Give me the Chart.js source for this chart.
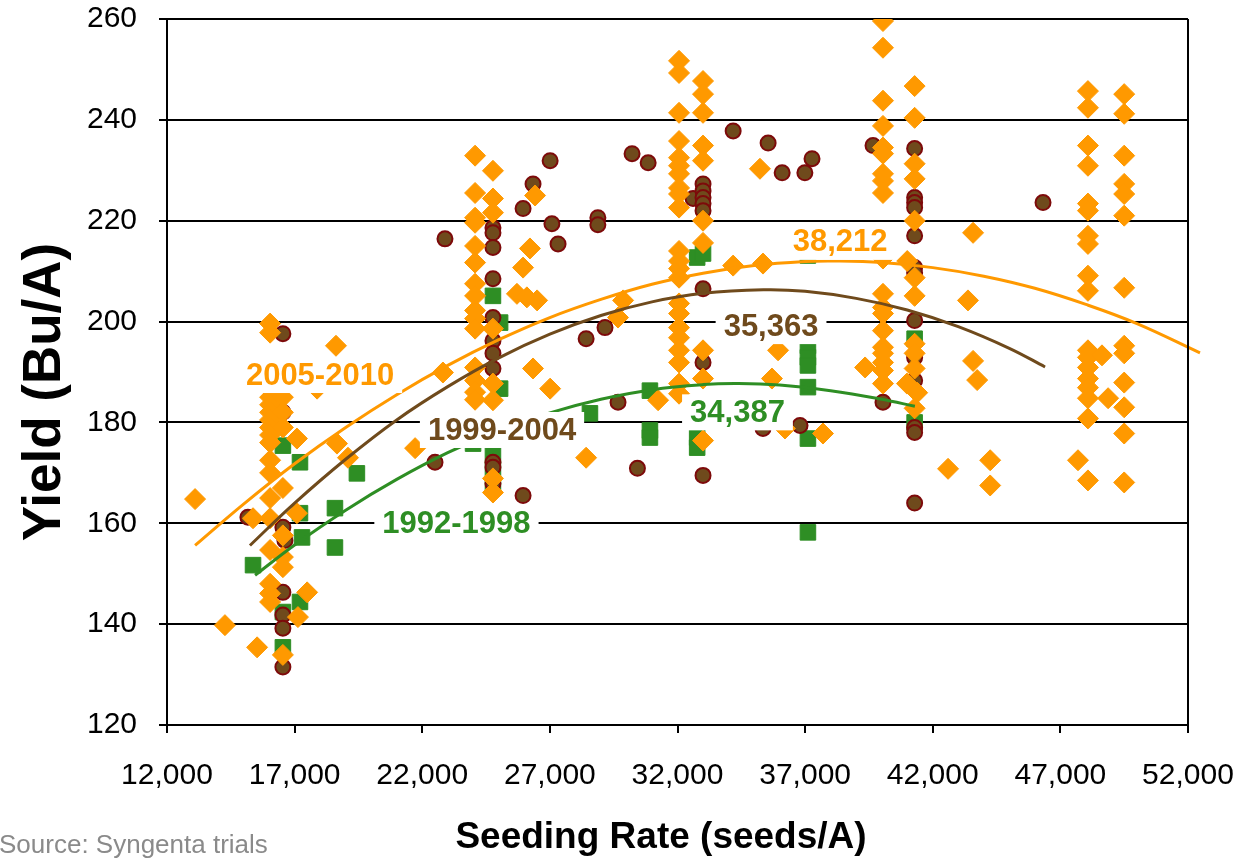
<!DOCTYPE html>
<html>
<head>
<meta charset="utf-8">
<title>Yield vs Seeding Rate</title>
<script src="https://cdn.jsdelivr.net/npm/chart.js@4.4.1/dist/chart.umd.min.js"></script>
<style>
  html, body { margin: 0; padding: 0; background: #fff; }
  #wrap { width: 1257px; height: 860px; }
</style>
</head>
<body>
<div id="wrap"><canvas id="yieldChart" width="1257" height="860"></canvas></div>
<script>
// axis ticks
const rateTicks = [12000, 17000, 22000, 27000, 32000, 37000, 42000, 47000, 52000];
const yieldTicks = [120, 140, 160, 180, 200, 220, 240, 260];

// trial results [seeding rate, yield] per period
const pts9298 = [
    [16540, 175.4], [17210, 172.1], [19440, 169.9], [17210, 162], [18580, 163], [17290, 157.2],
    [18580, 155.2], [15370, 151.7], [17210, 144.4], [16540, 142.4], [16540, 135.4],
    [24770, 205.1], [25050, 199.8], [25050, 186.7], [23990, 175.8], [24770, 173.5], [24770, 170.5], [24770, 167.5],
    [28570, 181.8], [30920, 186.3], [30920, 178.4], [30920, 177],
    [32770, 212.7], [33000, 213.5], [32770, 177], [32770, 175],
    [37110, 213.1], [37110, 195.2], [37110, 192.9], [37110, 191.3], [37110, 187], [37110, 176.8], [37110, 158.2],
    [41290, 196.6], [41290, 180]
];
const pts9904 = [
    [16540, 197.6], [16540, 182], [15170, 161.2], [16540, 159.2], [16620, 156.6], [16540, 146.3],
    [16540, 141.8], [16540, 139.2], [16540, 131.5],
    [22890, 216.4], [27010, 231.9], [26340, 227.3], [25950, 222.4], [27080, 219.4], [27320, 215.4],
    [28880, 220.6], [28880, 219.2], [28420, 196.6], [22500, 172.1], [25950, 165.5],
    [24770, 218.6], [24770, 217.6], [24770, 214.7], [24770, 208.5], [24770, 200.8], [24770, 196.2],
    [24770, 193.7], [24770, 190.7], [24770, 172.1], [24770, 171.1], [24770, 167.9],
    [30220, 233.3], [30850, 231.5], [29160, 198.8], [29670, 184], [30430, 170.9],
    [34180, 237.8], [35550, 235.4], [36100, 229.5], [36990, 229.5], [37270, 232.3], [32610, 224.4],
    [33000, 227.3], [33000, 225.9], [33000, 224.6], [33000, 223.4], [33000, 222], [33000, 206.5],
    [33000, 191.9], [33000, 169.5], [36800, 179.4], [35350, 178.8],
    [39660, 234.9], [41290, 234.3], [41290, 224.6], [41290, 223.6], [41290, 222.6], [41290, 217],
    [41290, 210.7], [41290, 209.7], [41290, 200.2], [41290, 192.9], [41290, 188.3], [41290, 179],
    [41290, 178], [41290, 164], [40050, 184], [46320, 223.6]
];
const pts0510 = [
    [16040, 199.6], [16040, 197.8], [16040, 186.5], [16040, 185], [16040, 183.5], [16040, 182],
    [16040, 180.5], [16040, 179], [16040, 177.5], [16040, 176], [16040, 172.5], [16040, 170],
    [16040, 165], [16040, 161], [16040, 154.7], [16040, 148], [16040, 146.1], [16040, 144.4],
    [16540, 185], [16540, 182], [16540, 179], [16540, 167], [16540, 157.6], [16540, 153.3], [16540, 151.3], [16540, 133.9],
    [15370, 161], [17090, 176.8], [17090, 162], [17130, 141.4], [17490, 146.3], [14270, 139.8],
    [15530, 135.4], [13100, 164.8], [18660, 175.8], [19090, 173], [18620, 195.2], [17880, 186.7],
    [24070, 232.9], [24070, 225.5], [24070, 220.6], [24070, 219.6], [24070, 215], [24070, 211.7],
    [24070, 207.5], [24070, 205.1], [24070, 202.2], [24070, 200.6], [24070, 198.6], [24070, 190.9],
    [24070, 188.3], [24070, 186], [24070, 184.5],
    [24770, 229.9], [24770, 224.4], [24770, 221.6], [24770, 198.6], [24770, 187.7], [24770, 184.4],
    [24770, 168.9], [24770, 166.1],
    [26420, 225], [26220, 214.5], [25950, 210.7], [25710, 205.5], [26100, 204.8], [26500, 204.2],
    [26340, 190.7], [27010, 186.7], [21720, 174.9], [28420, 173], [22810, 189.9], [29870, 204.2],
    [29670, 200.8], [31240, 184.4],
    [32060, 251.7], [32060, 249.3], [32060, 241.4], [32060, 235.8], [32060, 232.5], [32060, 230.9],
    [32060, 229.3], [32060, 226.5], [32060, 225.3], [32060, 222.6], [32060, 214], [32060, 212],
    [32060, 210.5], [32060, 208.7], [32060, 203.6], [32060, 201.6], [32060, 198.8], [32060, 196.8],
    [32060, 194.3], [32060, 191.9], [32060, 187.7], [32060, 185.7],
    [33000, 247.7], [33000, 245.1], [33000, 241.4], [33000, 234.9], [33000, 231.9], [33000, 220],
    [33000, 215.6], [33000, 194.3], [33000, 188.7], [33000, 176.4],
    [35230, 230.3], [34180, 211.1], [35350, 211.5], [35940, 194.3], [35700, 188.7], [36210, 178.8], [37700, 177.8],
    [40050, 259.6], [40050, 254.3], [40050, 243.8], [40050, 238.8], [40050, 234.5], [40050, 233.3],
    [40050, 229.3], [40050, 227.9], [40050, 225.5], [40050, 212.5], [40050, 205.5], [40050, 202.8],
    [40050, 201.6], [40050, 198.2], [40050, 194.9], [40050, 193.7], [40050, 191.9], [40050, 190.3],
    [40050, 187.7], [39350, 190.9],
    [41290, 246.7], [41290, 240.4], [41290, 231.3], [41290, 228.3], [41290, 220], [41000, 212],
    [41290, 208.7], [41290, 205.1], [41290, 195.6], [41290, 193.7], [41290, 190.7], [40990, 187.7],
    [41390, 185.9], [41290, 182.8],
    [43580, 217.6], [43380, 204.2], [43580, 192.2], [43740, 188.4], [42600, 170.8], [44250, 172.5], [44250, 167.5],
    [48080, 245.7], [48080, 242.4], [48080, 234.9], [48080, 230.9], [48080, 223.4], [48080, 222],
    [48080, 217], [48080, 215.4], [48080, 209.1], [48080, 206.1], [48080, 194.3], [48080, 192.9],
    [48080, 190.9], [48080, 188.7], [48080, 186.9], [48080, 184.8], [48080, 180.8], [48080, 168.5],
    [47690, 172.5], [48630, 193.3], [48870, 184.8],
    [49500, 245.1], [49500, 241.2], [49500, 232.9], [49500, 227.3], [49500, 225.3], [49500, 221],
    [49500, 206.7], [49500, 195.2], [49500, 193.7], [49500, 187.9], [49500, 183], [49500, 177.8], [49500, 168.1]
];

// trend curves
const fitRate9298 = [15450, 17000, 19000, 21000, 23000, 25000, 27000, 29000, 31000, 33000, 34387, 36000, 38000, 40000, 41300];
const fitYield9298 = [149.7, 155.7, 162.6, 168.7, 174.0, 178.4, 181.9, 184.6, 186.5, 187.5, 187.7, 187.4, 186.3, 184.6, 183.2];
const fitRate9904 = [15250, 17000, 19000, 21000, 23000, 25000, 27000, 29000, 31000, 33000, 35363, 37000, 39000, 41000, 43000, 45000, 46400];
const fitYield9904 = [155.6, 164.0, 172.7, 180.5, 187.1, 192.8, 197.5, 201.2, 203.9, 205.6, 206.3, 206.0, 204.6, 202.3, 199.0, 194.7, 191.0];
const fitRate0510 = [13100, 15000, 17000, 19000, 21000, 23000, 25000, 27000, 29000, 31000, 33000, 35000, 37000, 38212, 40000, 42000, 44000, 46000, 48000, 50000, 52470];
const fitYield0510 = [155.6, 163.8, 171.8, 179.0, 185.5, 191.3, 196.4, 200.8, 204.4, 207.4, 209.6, 211.1, 211.9, 212.0, 211.7, 210.7, 209.0, 206.6, 203.4, 199.6, 193.8];

const ORANGE = "#ff9900";
const BROWN = "#6f4a1c";
const GREEN = "#2e8e24";
const FONT = "'Liberation Sans', Arial, sans-serif";

function toPoints(pairs) {
    return pairs.map(p => ({ x: p[0], y: p[1] }));
}
function zipPoints(xs, ys) {
    return xs.map((x, i) => ({ x: x, y: ys[i] }));
}

// callouts on the chart (period names and optimum rates)
const callouts = [
    { text: "2005-2010", color: ORANGE, x: 17995, y: 189.4 },
    { text: "1999-2004", color: BROWN, x: 25125, y: 178.5 },
    { text: "1992-1998", color: GREEN, x: 23340, y: 160.0 },
    { text: "38,212", color: ORANGE, x: 38370, y: 215.8 },
    { text: "35,363", color: BROWN, x: 35665, y: 199.1 },
    { text: "34,387", color: GREEN, x: 34350, y: 182.0 }
];

const calloutPlugin = {
    id: "callouts",
    afterDatasetsDraw(chart) {
        const ctx = chart.ctx;
        const xs = chart.scales.x, ys = chart.scales.y;
        ctx.save();
        ctx.font = "bold 31px " + FONT;
        ctx.textAlign = "center";
        ctx.textBaseline = "middle";
        callouts.forEach(c => {
            const px = xs.getPixelForValue(c.x);
            const py = ys.getPixelForValue(c.y);
            const w = ctx.measureText(c.text).width + 16;
            const h = 36;
            ctx.fillStyle = "#fff";
            ctx.fillRect(px - w / 2, py - h / 2, w, h);
            ctx.fillStyle = c.color;
            ctx.fillText(c.text, px, py + 1);
        });
        ctx.restore();
    },
    afterDraw(chart) {
        const ctx = chart.ctx;
        const a = chart.chartArea;
        ctx.save();
        // right frame edge
        ctx.strokeStyle = "#000";
        ctx.lineWidth = 2;
        ctx.beginPath();
        ctx.moveTo(a.right, a.top);
        ctx.lineTo(a.right, a.bottom);
        ctx.stroke();
        // axis titles and source
        ctx.fillStyle = "#000";
        ctx.textAlign = "center";
        ctx.textBaseline = "middle";
        ctx.font = "bold 37px " + FONT;
        ctx.fillText("Seeding Rate (seeds/A)", 661, 838);
        ctx.save();
        ctx.translate(45, 392);
        ctx.rotate(-Math.PI / 2);
        ctx.font = "bold 53px " + FONT;
        ctx.fillText("Yield (Bu/A)", 0, 0);
        ctx.restore();
        ctx.textAlign = "left";
        ctx.fillStyle = "#8a8a8a";
        ctx.font = "26px " + FONT;
        ctx.fillText("Source: Syngenta trials", -1, 846);
        ctx.restore();
    }
};

document.addEventListener("DOMContentLoaded", function () {
    let ctx = document.getElementById("yieldChart").getContext("2d");

    new Chart(ctx, {
        type: "scatter",
        data: {
            datasets: [
                {
                    label: "2005-2010 trend",
                    data: zipPoints(fitRate0510, fitYield0510),
                    showLine: true,
                    borderColor: ORANGE,
                    borderWidth: 3,
                    pointRadius: 0,
                    tension: 0.4,
                    clip: false
                },
                {
                    label: "1999-2004 trend",
                    data: zipPoints(fitRate9904, fitYield9904),
                    showLine: true,
                    borderColor: BROWN,
                    borderWidth: 3,
                    pointRadius: 0,
                    tension: 0.4
                },
                {
                    label: "1992-1998 trend",
                    data: zipPoints(fitRate9298, fitYield9298),
                    showLine: true,
                    borderColor: GREEN,
                    borderWidth: 3,
                    pointRadius: 0,
                    tension: 0.4
                },
                {
                    label: "2005-2010",
                    data: toPoints(pts0510),
                    pointStyle: "rectRot",
                    pointRadius: 10.5,
                    backgroundColor: ORANGE,
                    borderColor: ORANGE,
                    borderWidth: 1
                },
                {
                    label: "1999-2004",
                    data: toPoints(pts9904),
                    pointStyle: "circle",
                    pointRadius: 7.5,
                    backgroundColor: BROWN,
                    borderColor: "#7d0a0a",
                    borderWidth: 2
                },
                {
                    label: "1992-1998",
                    data: toPoints(pts9298),
                    pointStyle: "rect",
                    pointRadius: 11,
                    backgroundColor: GREEN,
                    borderColor: GREEN,
                    borderWidth: 1
                }
            ]
        },
        options: {
            responsive: false,
            animation: false,
            layout: { padding: { top: 19, right: 69, left: 0, bottom: 0 } },
            plugins: {
                legend: { display: false },
                tooltip: { enabled: false }
            },
            scales: {
                x: {
                    type: "linear",
                    min: rateTicks[0],
                    max: rateTicks[rateTicks.length - 1],
                    afterFit: s => { s.height = 135; s.paddingLeft = 0; s.paddingRight = 0; },
                    afterBuildTicks: s => { s.ticks = rateTicks.map(v => ({ value: v })); },
                    ticks: {
                        color: "#000",
                        font: { family: FONT, size: 30 },
                        padding: 25,
                        maxRotation: 0,
                        callback: v => v.toLocaleString("en-US")
                    },
                    grid: { drawOnChartArea: false, drawTicks: true, tickLength: 8, color: "#000", lineWidth: 2 },
                    border: { display: true, color: "#000", width: 2 }
                },
                y: {
                    min: yieldTicks[0],
                    max: yieldTicks[yieldTicks.length - 1],
                    afterFit: s => { s.width = 167; s.paddingTop = 0; s.paddingBottom = 0; },
                    afterBuildTicks: s => { s.ticks = yieldTicks.map(v => ({ value: v })); },
                    ticks: {
                        color: "#000",
                        font: { family: FONT, size: 30 },
                        padding: 22
                    },
                    grid: { color: "#000", lineWidth: 2, tickLength: 8 },
                    border: { display: true, color: "#000", width: 2 }
                }
            }
        },
        plugins: [calloutPlugin]
    });
});
</script>
</body>
</html>
